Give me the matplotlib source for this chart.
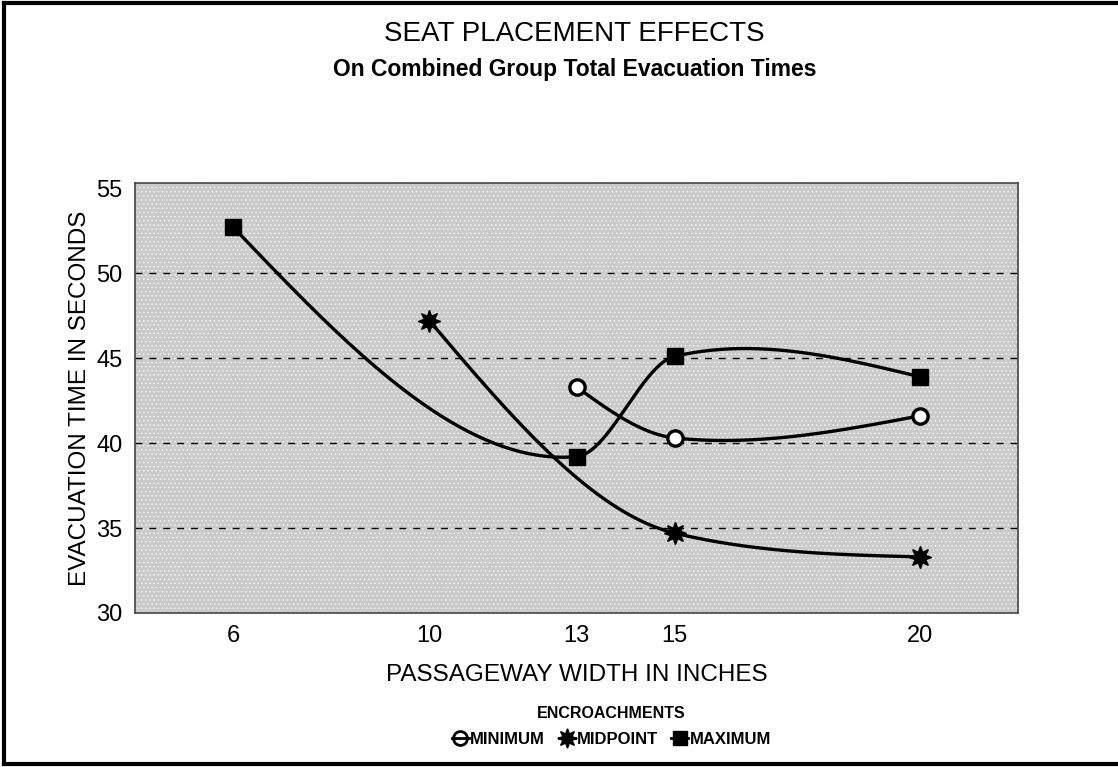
import matplotlib
matplotlib.use("Agg")
import matplotlib.pyplot as plt
from matplotlib.lines import Line2D
import numpy as np

plt.rcParams['font.family'] = ['Liberation Sans', 'DejaVu Sans']
plt.rcParams['hatch.linewidth'] = 0.6

# passageway width (inches) and evacuation time (seconds)
min_x = [13, 15, 20]
min_y = [43.3, 40.3, 41.6]
mid_x = [10, 15, 20]
mid_y = [47.2, 34.7, 33.3]
max_x = [6, 13, 15, 20]
max_y = [52.7, 39.2, 45.1, 43.9]

xticks = [6, 10, 13, 15, 20]
yticks = [30, 35, 40, 45, 50, 55]


def smooth(x, y, tension=0.5, n=80):
    # cardinal-style hermite spline, natural end tangents
    x = np.asarray(x, float)
    y = np.asarray(y, float)
    s = np.diff(y) / np.diff(x)
    m = np.zeros_like(y)
    m[1:-1] = (1 - tension) * (s[:-1] + s[1:]) / 2
    m[0] = (3 * s[0] - m[1]) / 2
    m[-1] = (3 * s[-1] - m[-2]) / 2
    xs, ys = [], []
    for i in range(len(x) - 1):
        h = x[i + 1] - x[i]
        t = np.linspace(0, 1, n)
        h00 = 2 * t**3 - 3 * t**2 + 1
        h10 = t**3 - 2 * t**2 + t
        h01 = -2 * t**3 + 3 * t**2
        h11 = t**3 - t**2
        xs.append(x[i] + t * h)
        ys.append(h00 * y[i] + h10 * h * m[i] + h01 * y[i + 1] + h11 * h * m[i + 1])
    return np.concatenate(xs), np.concatenate(ys)


fig = plt.figure(figsize=(11.18, 7.67), dpi=100)
ax = fig.add_axes([0.1208, 0.2008, 0.7898, 0.5606])
ax.set_facecolor('#cacaca')
ax.patch.set_hatch('....')
ax.patch.set_edgecolor('#f2f2f2')

for v in [35, 40, 45, 50]:
    ax.axhline(v, color='black', lw=1.0, ls=(0, (5, 5)), zorder=1)

styles = [
    dict(marker='o', markersize=11, markerfacecolor='white', markeredgewidth=2.4),
    dict(marker=(8, 1, 0), markersize=16),
    dict(marker='s', markersize=11),
]
for (xs_, ys_), mk in zip([(min_x, min_y), (mid_x, mid_y), (max_x, max_y)], styles):
    sx, sy = smooth(xs_, ys_)
    ax.plot(sx, sy, color='black', lw=2.4, zorder=3, solid_capstyle='round')
    ax.plot(xs_, ys_, ls='none', color='black', markeredgecolor='black',
            zorder=4, **mk)

ax.set_xlim(4, 22)
ax.set_ylim(30, 55.3)
ax.set_xticks(xticks)
ax.set_yticks(yticks)
ax.tick_params(length=0, labelsize=17, pad=9)
for sp in ax.spines.values():
    sp.set_linewidth(1.2)
    sp.set_color('#444444')

ax.set_xlabel('PASSAGEWAY WIDTH IN INCHES', fontsize=17.5, labelpad=12)
ax.set_ylabel('EVACUATION TIME IN SECONDS', fontsize=17.5, labelpad=4)

fig.text(0.514, 0.956, 'SEAT PLACEMENT EFFECTS', ha='center', va='center',
         fontsize=20)
fig.text(0.514, 0.909, 'On Combined Group Total Evacuation Times',
         ha='center', va='center', fontsize=16.5, fontweight='bold')

handles = [
    Line2D([], [], color='black', lw=2, marker='o', markersize=10,
           markerfacecolor='none', markeredgewidth=2),
    Line2D([], [], color='black', lw=2, marker=(8, 1, 0), markersize=14),
    Line2D([], [], color='black', lw=2, marker='s', markersize=10),
]
fig.legend(handles, ['MINIMUM', 'MIDPOINT', 'MAXIMUM'], loc='center',
           bbox_to_anchor=(0.547, 0.053), ncol=3, frameon=False,
           title='ENCROACHMENTS', handlelength=1.0, handletextpad=0.1,
           columnspacing=0.8, prop={'size': 12, 'weight': 'bold'},
           title_fontproperties={'size': 11.5, 'weight': 'bold'},
           borderpad=0.1, labelspacing=0.7)

# outer frame
for (x0, y0), (x1, y1) in ([(0.004, 0.004), (0.004, 0.996)],
                           [(0.004, 0.996), (1.0, 0.996)],
                           [(0.004, 0.004), (1.0, 0.004)]):
    fig.add_artist(Line2D([x0, x1], [y0, y1], color='black', lw=3,
                          transform=fig.transFigure))

fig.savefig('out.png', dpi=100)
